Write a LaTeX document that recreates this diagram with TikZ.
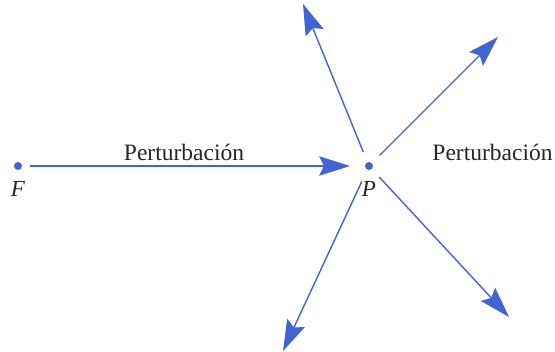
\documentclass[tikz,border=0pt]{standalone}
\usepackage{fontspec}
\setmainfont{Liberation Serif}
\usetikzlibrary{calc}
\definecolor{arrowblue}{RGB}{66,100,210}
\newcommand\mywavehead[2]{%
  \fill[arrowblue] (#2)
    -- ($(#2)!31pt!(#1)!9.8pt!90:(#2)$)
    -- ($(#2)!26pt!(#1)$)
    -- ($(#2)!31pt!(#1)!9.8pt!-90:(#2)$)
    -- cycle;}
\begin{document}
\begin{tikzpicture}[x=1pt,y=-1pt,
  dotnode/.style={circle,fill=arrowblue,inner sep=0pt,minimum size=8pt,outer sep=0pt},
  wave/.style={draw=arrowblue,line width=1.4pt},
  lbl/.style={anchor=base,text=black!85,font=\fontsize{23.5}{28}\selectfont},
  ptlbl/.style={anchor=base,text=black!85,font=\fontsize{23}{28}\selectfont\itshape}]
\useasboundingbox (0,0) rectangle (555,352);
\node[dotnode] (F) at (18,166) {};
\node[dotnode] (P) at (369,166) {};
\node[ptlbl] (Fl) at (18,197) {F};
\node[ptlbl] (Pl) at (369,197) {P};
\coordinate (UL) at (303,4);
\coordinate (UR) at (498,37);
\coordinate (DR) at (509,317);
\coordinate (DL) at (283,351);
\coordinate (Ptip) at (350,166);
\draw[wave,shorten <=8pt] (F) -- ($(Ptip)!22pt!(F)$);
\mywavehead{F}{Ptip}
\draw[wave,shorten <=11pt] (P) -- ($(UL)!22pt!(P)$);
\mywavehead{P}{UL}
\draw[wave,shorten <=11pt] (P) -- ($(UR)!22pt!(P)$);
\mywavehead{P}{UR}
\draw[wave,shorten <=11pt] (P) -- ($(DR)!22pt!(P)$);
\mywavehead{P}{DR}
\draw[wave,shorten <=13pt] (P) -- ($(DL)!22pt!(P)$);
\mywavehead{P}{DL}
\node[lbl] (t1) at (184,161) {Perturbación};
\node[lbl] (t2) at (492.5,161) {Perturbación};
\end{tikzpicture}
\end{document}
